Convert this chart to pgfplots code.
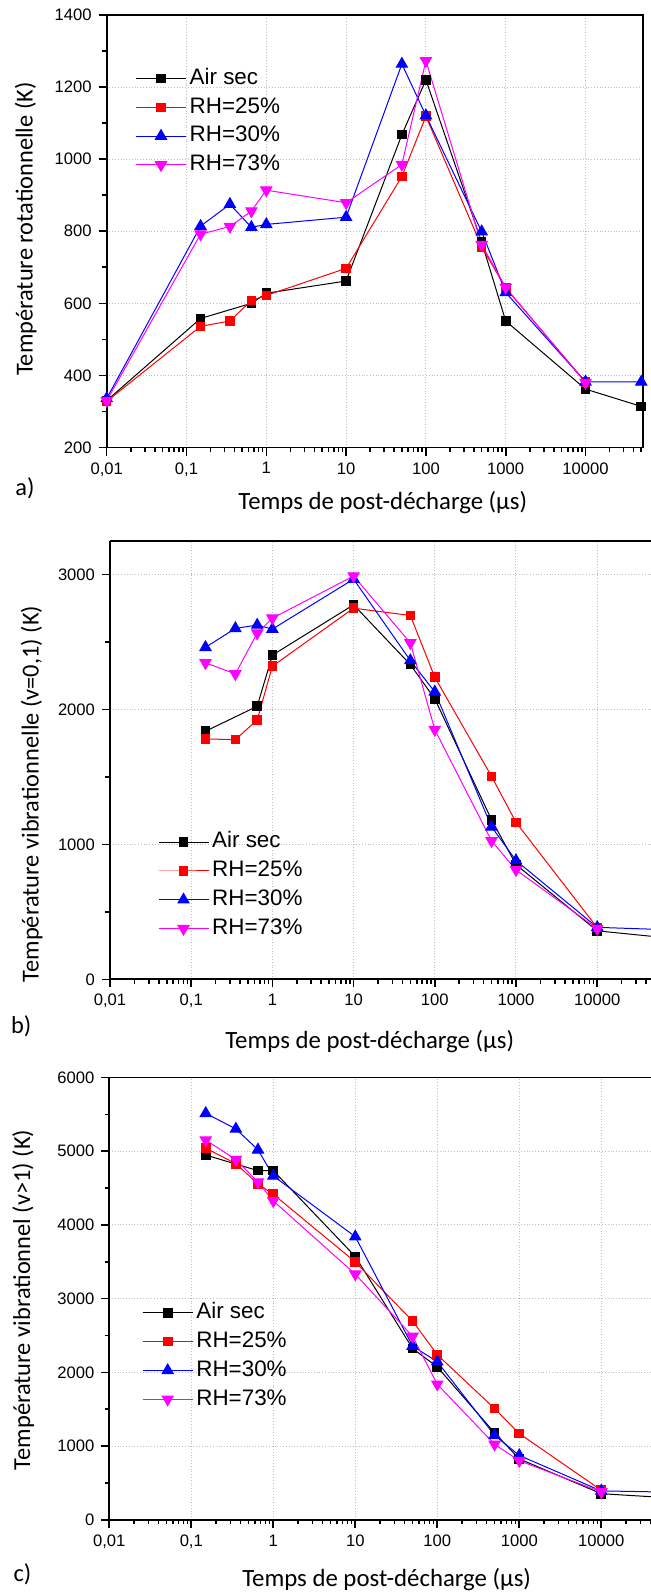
\documentclass[border=0pt]{standalone}
\usepackage{fontspec}
\setmainfont{Liberation Sans}
\newfontfamily\calibri{Carlito}
\usepackage{pgfplots}
\pgfplotsset{compat=1.18}
\definecolor{cblk}{RGB}{0,0,0}
\definecolor{cred}{RGB}{255,0,0}
\definecolor{cblu}{RGB}{0,0,255}
\definecolor{cmag}{RGB}{255,0,255}
\pgfplotsset{
  every axis/.append style={
    scale only axis,
    xmin=0.01,
    xtick={0.01,0.1,1,10,100,1000,10000},
    xticklabels={{0,01},{0,1},1,10,100,1000,10000},
    minor xtick={0.02,0.03,0.04,0.05,0.06,0.07,0.08,0.09,0.2,0.3,0.4,0.5,0.6,0.7,0.8,0.9,2,3,4,5,6,7,8,9,20,30,40,50,60,70,80,90,200,300,400,500,600,700,800,900,2000,3000,4000,5000,6000,7000,8000,9000,20000,30000,40000,50000},
    minor y tick num=1,
    tick align=outside,
    major tick length=4pt, minor tick length=2.3pt,
    every tick/.style={black, line width=0.8pt},
    grid=major, major grid style={densely dotted, black!25, line width=0.5pt},
    axis line style={line width=0.85pt},
    tick label style={font=\fontsize{8.3}{10}\selectfont},
    /pgf/number format/assume math mode=true,
    /pgf/number format/1000 sep={},
    xlabel style={font=\calibri\fontsize{12.4}{14}\selectfont},
    ylabel style={font=\calibri\fontsize{12.2}{14}\selectfont},
    legend cell align=left,
    legend style={draw=none, fill=none, inner sep=0pt, font=\fontsize{11.2}{13}\selectfont,
      nodes={inner sep=1.6pt, text height=8.2pt, text depth=2.4pt}, row sep=0.6pt},
  },
  legend image code/.code={\draw[mark repeat=2,mark phase=2,#1] plot coordinates {(0pt,0pt) (12.5pt,0pt) (25pt,0pt)};},
  sAir/.style={color=cblk, line width=0.5pt, mark=square*, mark size=2.15pt, mark options={solid, fill=cblk}},
  sR25/.style={color=cred, line width=0.5pt, mark=square*, mark size=2.15pt, mark options={solid, fill=cred}},
  sR30/.style={color=cblu, line width=0.5pt, mark=triangle*, mark size=3.2pt, mark options={solid, fill=cblu}},
  sR73/.style={color=cmag, line width=0.5pt, mark=triangle*, mark size=3.2pt, mark options={solid, fill=cmag, rotate=180}},
}
\begin{document}
\begin{tikzpicture}
\useasboundingbox (0,0) rectangle (325.5pt,-796.5pt);
% ---------------- a) ----------------
\begin{semilogxaxis}[at={(53.35pt,-223.75pt)}, anchor=south west,
  width=268pt, height=216.25pt, tick pos=left,
  xmax=52100, ymin=200, ymax=1400, ytick={200,400,600,800,1000,1200,1400},
  xlabel={Temps de post-décharge (µs)},
  ylabel={Température rotationnelle (K)},
  xlabel style={at={(axis description cs:0.515,-0.128)}, anchor=center},
  ylabel style={at={(axis description cs:-0.151,0.505)}, anchor=center},
  legend style={at={(axis description cs:0.053,0.886)}, anchor=north west},
]
\addplot[sAir] coordinates {(0.01,330) (0.15,558) (0.65,600) (1,628) (10,662) (50,1068) (100,1220) (500,770) (1000,551) (10000,362) (50000,314)};
\addplot[sR25] coordinates {(0.01,328) (0.15,536) (0.35,551) (0.65,608) (1,622) (10,697) (50,952) (100,1119) (500,757) (1000,642) (10000,382)};
\addplot[sR30] coordinates {(0.01,336) (0.15,814) (0.35,875) (0.65,811) (1,819) (10,839) (50,1264) (100,1121) (500,799) (1000,630) (10000,382) (50000,382)};
\addplot[sR73] coordinates {(0.01,330) (0.15,792) (0.35,813) (0.65,856) (1,914) (10,879) (50,985) (100,1273) (500,763) (1000,644) (10000,380)};
\legend{Air sec, RH=25\%, RH=30\%, RH=73\%}
\end{semilogxaxis}
% ---------------- b) ----------------
\begin{semilogxaxis}[at={(55pt,-489.65pt)}, anchor=south west,
  width=270.5pt, height=219.3pt,
  axis x line*=box, axis y line*=left, tick pos=left,
  xmax=46000, ymin=0, ymax=3250, ytick={0,1000,2000,3000},
  xlabel={Temps de post-décharge (µs)},
  ylabel={Température vibrationnelle (v=0,1) (K)},
  xlabel style={at={(axis description cs:0.480,-0.1425)}, anchor=center},
  ylabel style={at={(axis description cs:-0.145,0.4225)}, anchor=center},
  legend style={at={(axis description cs:0.088,0.345)}, anchor=north west},
]
\addplot[sAir] coordinates {(0.15,1838) (0.65,2023) (1,2402) (10,2775) (50,2332) (100,2078) (500,1182) (1000,850) (10000,359) (50000,317)};
\addplot[sR25] coordinates {(0.15,1781) (0.35,1776) (0.65,1922) (1,2320) (10,2750) (50,2696) (100,2238) (500,1504) (1000,1163) (10000,383)};
\addplot[sR30] coordinates {(0.15,2460) (0.35,2600) (0.65,2625) (1,2595) (10,2965) (50,2362) (100,2130) (500,1130) (1000,880) (10000,385) (50000,371)};
\addplot[sR73] coordinates {(0.15,2345) (0.35,2263) (0.65,2565) (1,2676) (10,2988) (50,2493) (100,1850) (500,1026) (1000,811) (10000,375)};
\legend{Air sec, RH=25\%, RH=30\%, RH=73\%}
\end{semilogxaxis}
% ---------------- c) ----------------
\begin{semilogxaxis}[at={(54.65pt,-759.85pt)}, anchor=south west,
  width=270.85pt, height=221.1pt,
  axis x line*=box, axis y line*=left, tick pos=left,
  xmax=40400, ymin=0, ymax=6000, ytick={0,1000,2000,3000,4000,5000,6000},
  xlabel={Temps de post-décharge (µs)},
  ylabel={Température vibrationnel (v>1) (K)},
  xlabel style={at={(axis description cs:0.512,-0.136)}, anchor=center},
  ylabel style={at={(axis description cs:-0.159,0.497)}, anchor=center},
  legend style={at={(axis description cs:0.060,0.500)}, anchor=north west},
]
\addplot[sAir] coordinates {(0.15,4948) (0.65,4736) (1,4736) (10,3572) (50,2323) (100,2073) (500,1178) (1000,825) (10000,353) (50000,306)};
\addplot[sR25] coordinates {(0.15,5042) (0.35,4830) (0.65,4557) (1,4416) (10,3497) (50,2696) (100,2238) (500,1508) (1000,1169) (10000,400)};
\addplot[sR30] coordinates {(0.15,5514) (0.35,5302) (0.65,5019) (1,4665) (10,3840) (50,2356) (100,2144) (500,1145) (1000,872) (10000,391) (50000,377)};
\addplot[sR73] coordinates {(0.15,5151) (0.35,4887) (0.65,4581) (1,4326) (10,3332) (50,2488) (100,1838) (500,1023) (1000,801) (10000,377)};
\legend{Air sec, RH=25\%, RH=30\%, RH=73\%}
\end{semilogxaxis}
\node[font=\calibri\fontsize{12.2}{14}\selectfont] at (12.5pt,-244pt) {a)};
\node[font=\calibri\fontsize{12.2}{14}\selectfont] at (10.6pt,-513pt) {b)};
\node[font=\calibri\fontsize{12.2}{14}\selectfont] at (11.25pt,-787.35pt) {c)};
\end{tikzpicture}
\end{document}
